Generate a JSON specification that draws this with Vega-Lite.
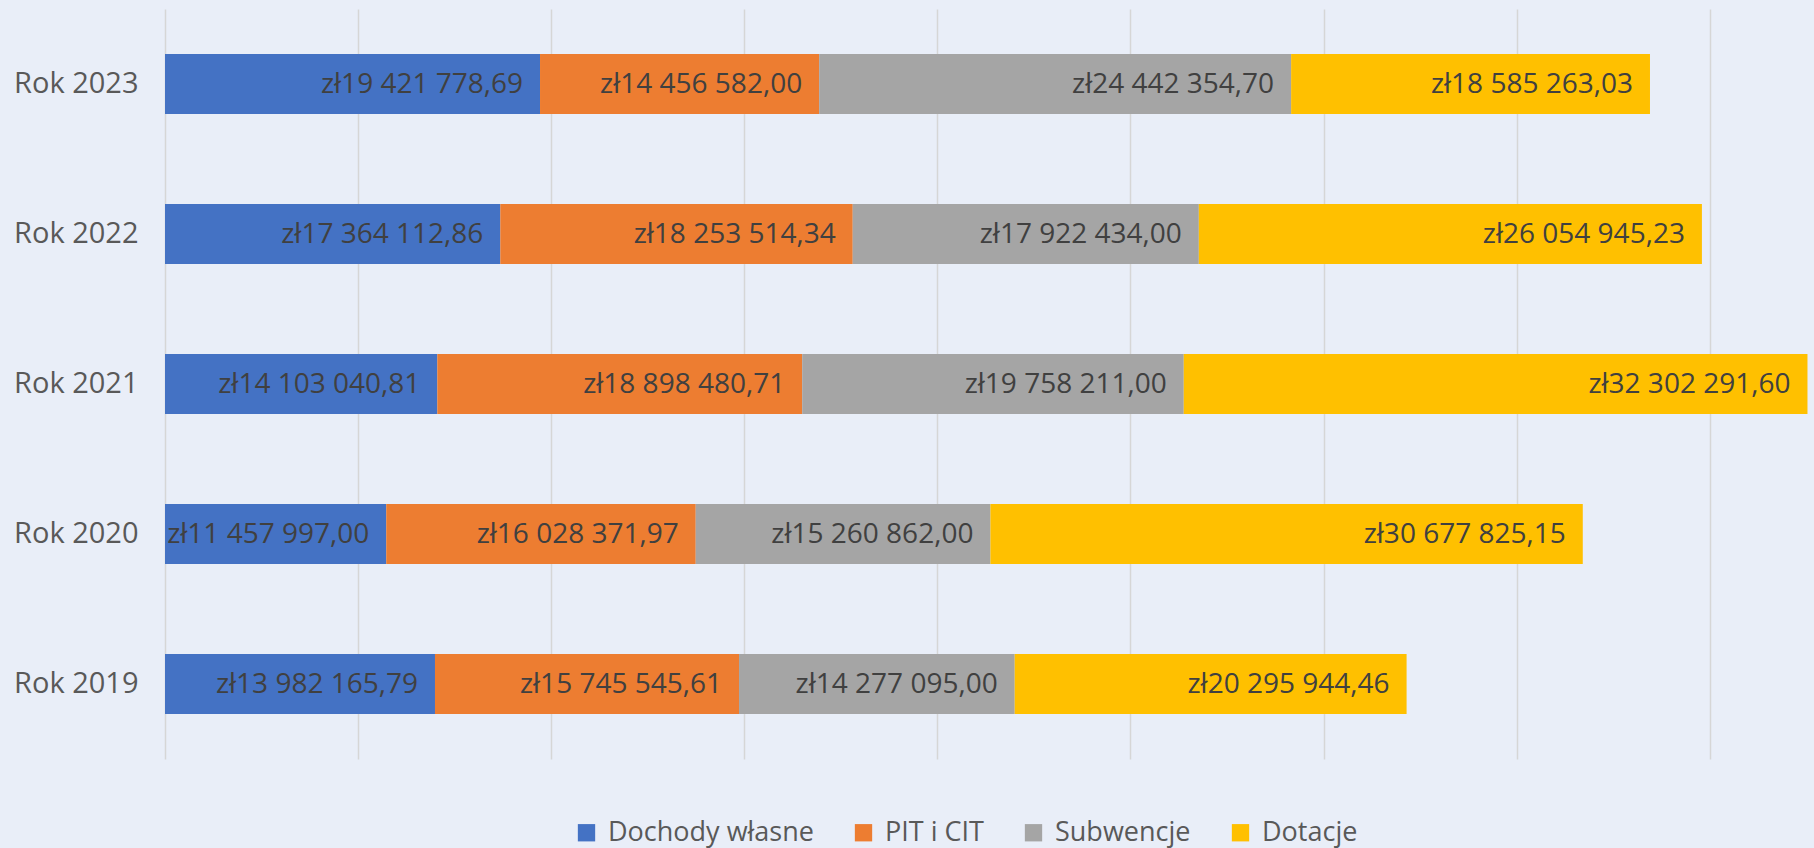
{
  "$schema": "https://vega.github.io/schema/vega-lite/v6.json",
  "width": 1649,
  "height": 750,
  "autosize": {"type": "none"},
  "padding": {"left": 165, "top": 9, "right": 0, "bottom": 89},
  "background": "#e9eef8",
  "config": {
    "view": {"stroke": null},
    "font": "Open Sans",
    "locale": {"number": {"decimal": ",", "thousands": " ", "grouping": [3], "currency": ["zł", ""]}}
  },
  "data": {
    "values": [
      {"rok": "Rok 2023", "kat": "Dochody własne", "ord": 1, "v": 19421778.69},
      {"rok": "Rok 2023", "kat": "PIT i CIT", "ord": 2, "v": 14456582.00},
      {"rok": "Rok 2023", "kat": "Subwencje", "ord": 3, "v": 24442354.70},
      {"rok": "Rok 2023", "kat": "Dotacje", "ord": 4, "v": 18585263.03},
      {"rok": "Rok 2022", "kat": "Dochody własne", "ord": 1, "v": 17364112.86},
      {"rok": "Rok 2022", "kat": "PIT i CIT", "ord": 2, "v": 18253514.34},
      {"rok": "Rok 2022", "kat": "Subwencje", "ord": 3, "v": 17922434.00},
      {"rok": "Rok 2022", "kat": "Dotacje", "ord": 4, "v": 26054945.23},
      {"rok": "Rok 2021", "kat": "Dochody własne", "ord": 1, "v": 14103040.81},
      {"rok": "Rok 2021", "kat": "PIT i CIT", "ord": 2, "v": 18898480.71},
      {"rok": "Rok 2021", "kat": "Subwencje", "ord": 3, "v": 19758211.00},
      {"rok": "Rok 2021", "kat": "Dotacje", "ord": 4, "v": 32302291.60},
      {"rok": "Rok 2020", "kat": "Dochody własne", "ord": 1, "v": 11457997.00},
      {"rok": "Rok 2020", "kat": "PIT i CIT", "ord": 2, "v": 16028371.97},
      {"rok": "Rok 2020", "kat": "Subwencje", "ord": 3, "v": 15260862.00},
      {"rok": "Rok 2020", "kat": "Dotacje", "ord": 4, "v": 30677825.15},
      {"rok": "Rok 2019", "kat": "Dochody własne", "ord": 1, "v": 13982165.79},
      {"rok": "Rok 2019", "kat": "PIT i CIT", "ord": 2, "v": 15745545.61},
      {"rok": "Rok 2019", "kat": "Subwencje", "ord": 3, "v": 14277095.00},
      {"rok": "Rok 2019", "kat": "Dotacje", "ord": 4, "v": 20295944.46}
    ]
  },
  "encoding": {
    "y": {
      "field": "rok", "type": "nominal",
      "sort": ["Rok 2023", "Rok 2022", "Rok 2021", "Rok 2020", "Rok 2019"],
      "scale": {"paddingInner": 0.6, "paddingOuter": 0.3},
      "axis": {"title": null, "domain": false, "ticks": false, "labelPadding": 27, "labelFontSize": 29, "labelColor": "#595959", "labelFont": "Open Sans"}
    },
    "x": {
      "field": "v", "type": "quantitative", "stack": "zero",
      "scale": {"domain": [0, 85400000], "nice": false},
      "axis": {"title": null, "labels": false, "ticks": false, "domain": false, "grid": true, "gridColor": "#d6d6d6", "gridWidth": 1.5, "values": [0, 10000000, 20000000, 30000000, 40000000, 50000000, 60000000, 70000000, 80000000]}
    },
    "order": {"field": "ord", "type": "quantitative"}
  },
  "layer": [
    {
      "mark": {"type": "bar"},
      "encoding": {
        "color": {
          "field": "kat", "type": "nominal",
          "scale": {"domain": ["Dochody własne", "PIT i CIT", "Subwencje", "Dotacje"], "range": ["#4472c4", "#ed7d31", "#a5a5a5", "#ffc000"]},
          "legend": {
            "title": null, "orient": "none", "direction": "horizontal",
            "legendX": 408, "legendY": 810,
            "symbolType": "square", "symbolSize": 300, "symbolStrokeWidth": 0,
            "labelFontSize": 27, "labelColor": "#595959", "labelFont": "Open Sans", "labelLimit": 500,
            "columnPadding": 36, "labelOffset": 8
          }
        }
      }
    },
    {
      "mark": {"type": "text", "align": "right", "baseline": "middle", "dx": -17, "dy": 1, "fontSize": 28, "color": "#404040", "font": "Open Sans"},
      "encoding": {
        "text": {"field": "v", "type": "quantitative", "format": "$,.2f"}
      }
    }
  ]
}
